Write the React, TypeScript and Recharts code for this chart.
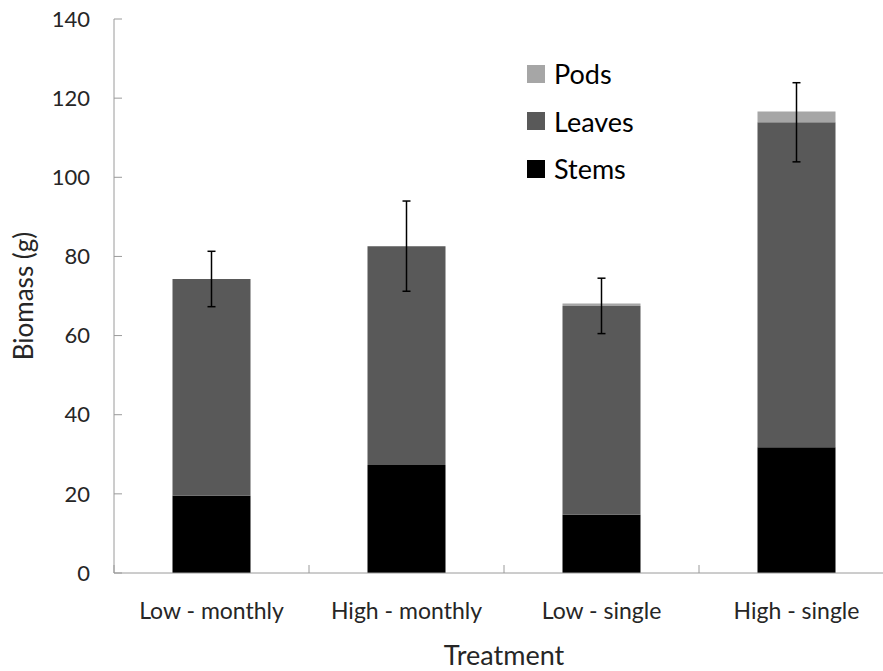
import { BarChart, Bar, XAxis, YAxis, ErrorBar, Legend } from "recharts";

const treatments = ["Low - monthly", "High - monthly", "Low - single", "High - single"];
const stems = [19.5, 27.3, 14.7, 31.8];
const leaves = [54.8, 55.3, 52.8, 82.1];
const pods = [0, 0, 0.6, 2.7];
const errors = [7.0, 11.4, 7.0, 10.0];
const yTicks = [0, 20, 40, 60, 80, 100, 120, 140];

const data = treatments.map((t, i) => ({
  treatment: t,
  stems: stems[i],
  leaves: leaves[i],
  pods: pods[i],
  err: errors[i],
}));

const FONT = "Lato, 'Noto Sans', sans-serif";
const AXIS = "#9a9a9a";
const TEXT = "#262626";

const legendItems = [
  { name: "Pods", color: "#a6a6a6" },
  { name: "Leaves", color: "#595959" },
  { name: "Stems", color: "#000000" },
];

const YTick = ({ x, y, payload }: any) => {
  const ax = x + 24;
  return (
    <g>
      <line x1={ax} x2={ax + 8} y1={y} y2={y} stroke={AXIS} />
      <text x={x} y={y} dy="0.35em" textAnchor="end" fontSize={22} fill={TEXT} fontFamily={FONT}>
        {payload.value}
      </text>
    </g>
  );
};

const XTick = ({ x, y, payload }: any) => {
  const ay = y - 30;
  const bx = x - (payload.offset ?? 0);
  return (
    <g>
      <line x1={bx} x2={bx} y1={ay} y2={ay - 8} stroke={AXIS} />
      <text x={x} y={y} dy="0.71em" textAnchor="middle" fontSize={23} fill={TEXT} fontFamily={FONT}>
        {payload.value}
      </text>
    </g>
  );
};

const LegendBox = () => (
  <div style={{ fontFamily: FONT, fontSize: 27, color: "#000" }}>
    {legendItems.map((it) => (
      <div key={it.name} style={{ display: "flex", alignItems: "center", height: 47.5 }}>
        <span style={{ width: 18, height: 18, background: it.color, marginRight: 9, display: "inline-block" }} />
        <span>{it.name}</span>
      </div>
    ))}
  </div>
);

export default function App() {
  return (
    <div style={{ position: "absolute", left: 0, top: 0, width: 883, height: 671, overflow: "hidden", background: "#fff" }}>
      <BarChart
        width={900}
        height={671}
        data={data}
        margin={{ top: 19, right: 6, left: 0, bottom: 0 }}
        barCategoryGap="30%"
      >
        <XAxis
          dataKey="treatment"
          height={98}
          stroke={AXIS}
          tickLine={false}
          tickSize={0}
          tickMargin={30}
          tick={<XTick />}
          interval={0}
          label={{ value: "Treatment", position: "insideBottom", offset: 6, fontSize: 27, fill: TEXT, fontFamily: FONT }}
        />
        <YAxis
          width={114}
          domain={[0, 140]}
          ticks={yTicks}
          stroke={AXIS}
          tickLine={false}
          tickSize={0}
          tickMargin={24}
          tick={<YTick />}
          interval={0}
          label={{
            value: "Biomass (g)",
            angle: -90,
            position: "insideLeft",
            offset: 24,
            fontSize: 26,
            fill: TEXT,
            fontFamily: FONT,
            style: { textAnchor: "middle" },
          }}
        />
        <Legend
          content={<LegendBox />}
          wrapperStyle={{ position: "absolute", left: 527, top: 50, width: 140, height: 0, overflow: "visible" }}
        />
        <Bar dataKey="stems" name="Stems" stackId="a" fill="#000000" isAnimationActive={false} />
        <Bar dataKey="leaves" name="Leaves" stackId="a" fill="#595959" isAnimationActive={false}>
          <ErrorBar dataKey="err" width={4} stroke="#000" strokeWidth={1.5} direction="y" />
        </Bar>
        <Bar dataKey="pods" name="Pods" stackId="a" fill="#a6a6a6" isAnimationActive={false} />
      </BarChart>
    </div>
  );
}
